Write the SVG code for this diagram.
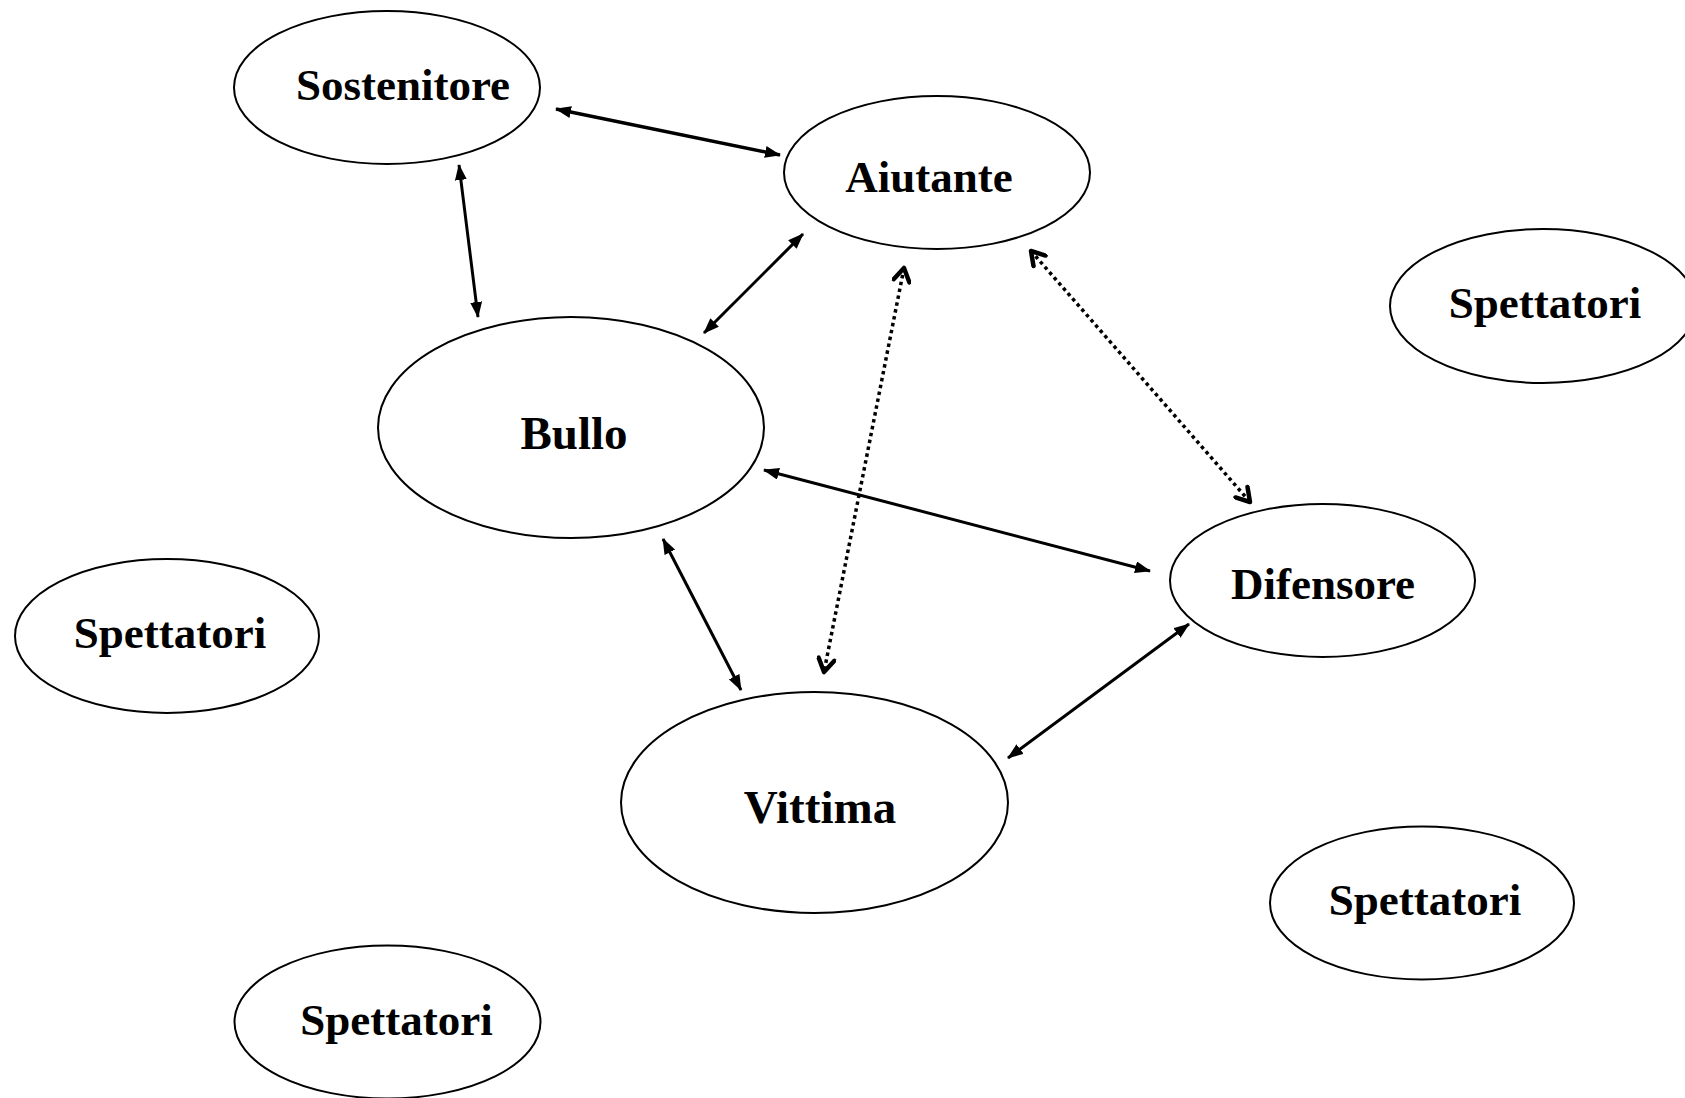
<svg xmlns="http://www.w3.org/2000/svg" width="1685" height="1098" viewBox="0 0 1685 1098">
<style>
.node ellipse{fill:#fff;stroke:#000;stroke-width:2}
.node text{font-family:"Liberation Serif","Times New Roman",serif;font-weight:bold;font-size:45px;fill:#000;text-anchor:middle}
.node text.big{font-size:47px}
.solid{stroke:#000;stroke-width:3;fill:none;marker-start:url(#arr);marker-end:url(#arr)}
.dot{stroke:#000;stroke-width:3.5;fill:none;stroke-dasharray:3.5 3.5;marker-start:url(#open);marker-end:url(#open)}
</style>
<defs>
<marker id="arr" viewBox="0 0 16 12" refX="15" refY="6" markerWidth="16" markerHeight="12" orient="auto-start-reverse" markerUnits="userSpaceOnUse"><path d="M0,0 L16,6 L0,12 z" fill="#000"/></marker>
<marker id="open" viewBox="0 0 20 20" refX="16" refY="10" markerWidth="20" markerHeight="20" orient="auto-start-reverse" markerUnits="userSpaceOnUse"><path d="M3,2 L16,10 L3,18" fill="none" stroke="#000" stroke-width="4.5" stroke-linecap="round" stroke-linejoin="round"/></marker>
</defs>
<rect width="1685" height="1098" fill="#fff"/>
<g id="connectors">
<line class="solid" x1="556" y1="109" x2="780" y2="155" style="stroke-width:3.5"/>
<line class="solid" x1="459" y1="165" x2="478" y2="317"/>
<line class="solid" x1="803" y1="234" x2="704" y2="333"/>
<line class="solid" x1="764" y1="470" x2="1150" y2="571"/>
<line class="solid" x1="663" y1="539" x2="741" y2="690"/>
<line class="solid" x1="1189" y1="624" x2="1008" y2="758"/>
<line class="dot" x1="904" y1="268" x2="824" y2="672"/>
<line class="dot" x1="1031" y1="251" x2="1250" y2="502"/>
</g>
<g id="sostenitore" class="node"><ellipse cx="387" cy="87.5" rx="153" ry="76.5"/><text x="403" y="100">Sostenitore</text></g>
<g id="aiutante" class="node"><ellipse cx="937" cy="172.5" rx="153" ry="76.5"/><text x="929" y="192">Aiutante</text></g>
<g id="spettatori-1" class="node"><ellipse cx="1543" cy="306" rx="153" ry="77"/><text x="1545" y="318">Spettatori</text></g>
<g id="bullo" class="node"><ellipse cx="571" cy="427.5" rx="193" ry="110.5"/><text class="big" x="574" y="449">Bullo</text></g>
<g id="difensore" class="node"><ellipse cx="1322.5" cy="580.5" rx="152.5" ry="76.5"/><text x="1323" y="599">Difensore</text></g>
<g id="spettatori-2" class="node"><ellipse cx="167" cy="636" rx="152" ry="77"/><text x="170" y="648">Spettatori</text></g>
<g id="vittima" class="node"><ellipse cx="814.5" cy="802.5" rx="193.5" ry="110.5"/><text class="big" x="820" y="823">Vittima</text></g>
<g id="spettatori-3" class="node"><ellipse cx="1422" cy="903" rx="152" ry="76.5"/><text x="1425" y="915">Spettatori</text></g>
<g id="spettatori-4" class="node"><ellipse cx="387.5" cy="1022" rx="153" ry="76.5"/><text x="396.5" y="1035">Spettatori</text></g>
</svg>
